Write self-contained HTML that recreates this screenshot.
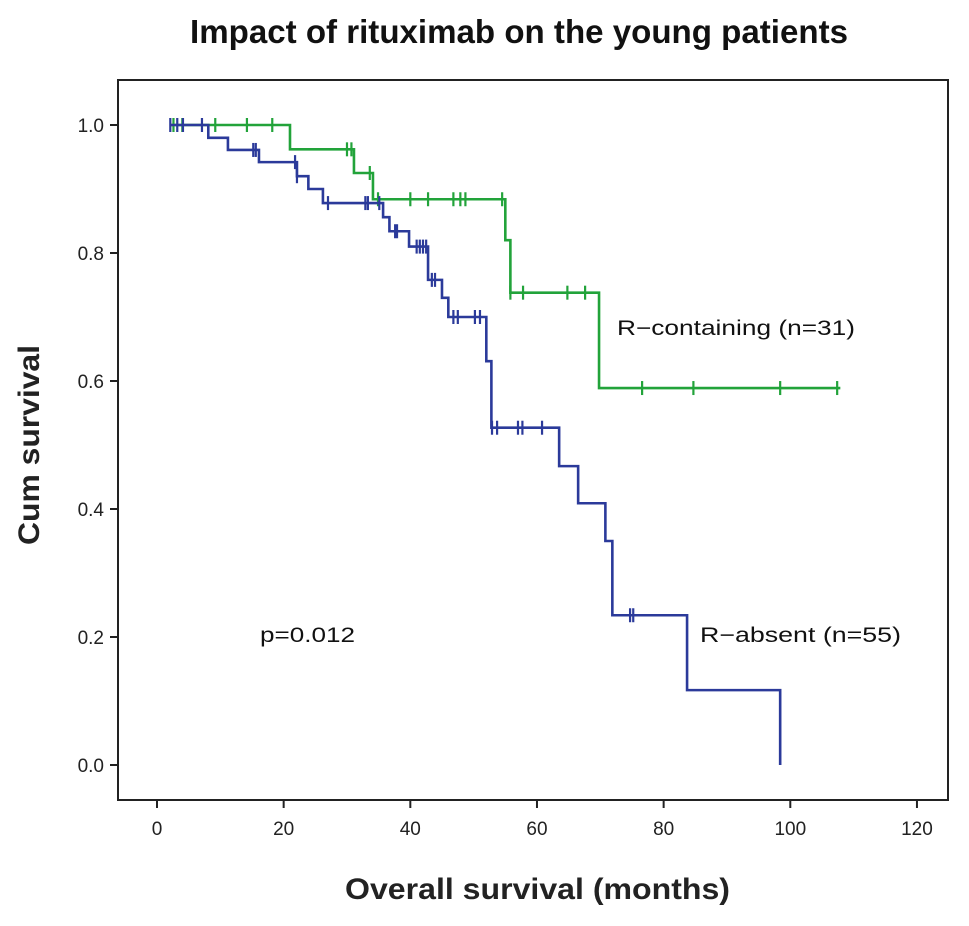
<!DOCTYPE html>
<html><head><meta charset="utf-8"><style>
body{margin:0;background:#fff;width:969px;height:921px;overflow:hidden}
svg{font-family:"Liberation Sans",Arial,sans-serif}
</style></head><body>
<svg id="chart" width="969" height="921">
<text x="190" y="43" textLength="658" lengthAdjust="spacingAndGlyphs" font-size="33" font-weight="bold" fill="#111">Impact of rituximab on the young patients</text>
<rect x="118" y="80" width="830" height="720" fill="none" stroke="#222" stroke-width="2"/>
<g id="axes"></g>
<g id="series"></g>
<text x="345" y="899" textLength="385" lengthAdjust="spacingAndGlyphs" font-size="30" font-weight="bold" fill="#222">Overall survival (months)</text>
<text transform="translate(39,545) rotate(-90)" textLength="200" lengthAdjust="spacingAndGlyphs" font-size="30" font-weight="bold" fill="#222">Cum survival</text>
<text x="617" y="335" textLength="238" lengthAdjust="spacingAndGlyphs" font-size="21" fill="#111">R−containing (n=31)</text>
<text x="700" y="642" textLength="201" lengthAdjust="spacingAndGlyphs" font-size="21" fill="#111">R−absent (n=55)</text>
<text x="260" y="642" textLength="95" lengthAdjust="spacingAndGlyphs" font-size="21" fill="#111">p=0.012</text>
</svg>
<script>
const xTicks=[0,20,40,60,80,100,120];
const yTicks=[0.0,0.2,0.4,0.6,0.8,1.0];
const blueStart=2;
const blueTimes=[8.1,11.2,16.1,22.1,23.9,26.2,35.7,36.7,39.8,42.8,45,46,52,52.8,63.5,66.5,70.8,71.9,83.7,98.4];
const blueSurv=[0.98,0.961,0.942,0.92,0.90,0.878,0.856,0.834,0.81,0.758,0.73,0.70,0.631,0.527,0.467,0.409,0.35,0.234,0.117,0.0];
const blueEnd=98.4;
const blueCensor=[2.1,3.2,4.1,7.1,15.2,15.6,21.8,22.1,27,32.9,33.3,35.1,37.6,37.9,41,41.5,42,42.5,43.4,43.9,46.8,47.5,50.2,51,52.9,53.7,57,57.7,60.8,74.7,75.2];
const greenStart=2;
const greenTimes=[21,31.1,34.1,55,55.8,69.8];
const greenSurv=[0.962,0.925,0.884,0.82,0.738,0.589];
const greenEnd=107.9;
const greenCensor=[2.6,4,9.2,14.2,18.2,30,30.7,33.6,34.9,40,42.8,46.8,47.9,48.7,54.5,55.8,57.8,64.8,67.6,76.6,84.7,98.4,107.4];

const NS="http://www.w3.org/2000/svg";
const X=t=>157+t*6.333;
const Y=s=>765-s*640;
function mk(tag,attrs,parent){const e=document.createElementNS(NS,tag);for(const k in attrs)e.setAttribute(k,attrs[k]);parent.appendChild(e);return e;}
const axes=document.getElementById('axes');
xTicks.forEach(v=>{
  const l=mk('line',{x1:X(v),x2:X(v),y1:800,y2:808,stroke:'#222','stroke-width':2},axes);
  
  
  const t=mk('text',{x:X(v),y:835,'text-anchor':'middle','font-size':19,fill:'#222'},axes);
  t.textContent=v;
  
  
});
yTicks.forEach(v=>{
  const l=mk('line',{x1:110,x2:118,y1:Y(v),y2:Y(v),stroke:'#222','stroke-width':2},axes);
  
  
  const t=mk('text',{x:104,y:Y(v)+7,'text-anchor':'end','font-size':19,fill:'#222'},axes);
  t.textContent=v.toFixed(1);
  
  
});
const g=document.getElementById('series');
function survAt(t,times,surv){let s=1;for(let i=0;i<times.length;i++){if(times[i]<=t)s=surv[i];}return s;}
function draw(start,times,surv,end,cens,color,name){
  let d='M'+X(start)+','+Y(1);
  for(let i=0;i<times.length;i++){d+=' H'+X(times[i])+' V'+Y(surv[i]);}
  d+=' H'+X(end);
  const p=mk('path',{d:d,fill:'none',stroke:color,'stroke-width':2.6},g);
  
  
  cens.forEach(c=>{
    const s=survAt(c,times,surv);
    const l=mk('line',{x1:X(c),x2:X(c),y1:Y(s)-7,y2:Y(s)+7,stroke:color,'stroke-width':2.2},g);
    
    
  });
}
draw(greenStart,greenTimes,greenSurv,greenEnd,greenCensor,'#22a33a','r-containing');
draw(blueStart,blueTimes,blueSurv,blueEnd,blueCensor,'#2b3a9a','r-absent');
</script>
</body></html>
